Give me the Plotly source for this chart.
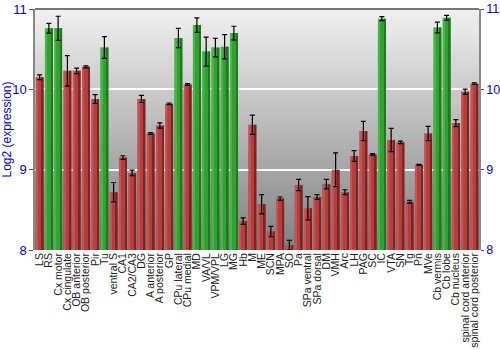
import plotly.graph_objects as go

# Brain regions, mean log2 expression and standard error
regions = [
    "LS", "RS", "Cx motor", "Cx cingulate", "OB anterior", "OB posterior", "Pir", "Tu",
    "ventral S", "CA1", "CA2/CA3", "DG", "A anterior", "A posterior", "GP", "CPu lateral",
    "CPu medial", "MD", "VA/VL", "VPM/VPL", "LG", "MG", "Hb", "M", "ME", "SCN", "MPA", "SO",
    "Pa", "SPa ventral", "SPa dorsal", "DM", "VMH", "Arc", "LH", "PAG", "SC", "IC", "VTA",
    "SN", "Tg", "Pn", "MVe", "Cb vermis", "Cb lobe", "Cb nucleus", "spinal cord anterior",
    "spinal cord posterior",
]
expression = [
    10.15, 10.76, 10.76, 10.23, 10.23, 10.28, 9.88, 10.52,
    8.72, 9.15, 8.96, 9.88, 9.45, 9.55, 9.82, 10.64,
    10.06, 10.80, 10.47, 10.52, 10.53, 10.70, 8.36, 9.56, 8.57, 8.23, 8.64, 8.06,
    8.81, 8.52, 8.66, 8.82, 9.00, 8.72, 9.17, 9.48, 9.19, 10.88, 9.37,
    9.34, 8.60, 9.06, 9.45, 10.77, 10.89, 9.58, 9.97,
    10.07,
]
std_err = [
    0.03, 0.06, 0.15, 0.19, 0.035, 0.012, 0.054, 0.135,
    0.12, 0.023, 0.035, 0.044, 0.01, 0.033, 0.01, 0.12,
    0.01, 0.09, 0.18, 0.116, 0.15, 0.085, 0.04, 0.12, 0.12, 0.065, 0.02, 0.06,
    0.07, 0.145, 0.03, 0.058, 0.21, 0.03, 0.066, 0.12, 0.01, 0.025, 0.145,
    0.015, 0.017, 0.005, 0.09, 0.066, 0.03, 0.044, 0.033,
    0.01,
]
# regions shown in green (high-expression group)
highlighted = {"RS", "Cx motor", "Tu", "CPu lateral", "MD", "VA/VL", "VPM/VPL",
               "LG", "MG", "IC", "Cb vermis", "Cb lobe"}

base_col = ["#32a032" if r in highlighted else "#b53d3d" for r in regions]
dark_col = ["#1f7a1f" if r in highlighted else "#7d2424" for r in regions]
light_col = ["#4cbc4c" if r in highlighted else "#c85a5a" for r in regions]

fig = go.Figure()
# main bar body
fig.add_trace(go.Bar(
    x=regions, y=expression, width=0.86, offset=-0.43,
    marker=dict(color=base_col, line=dict(width=0)), hoverinfo="x+y",
))
# darker right edge for a rounded look
fig.add_trace(go.Bar(
    x=regions, y=expression, width=0.2, offset=0.23,
    marker=dict(color=dark_col, line=dict(width=0)), hoverinfo="skip",
))
# lighter left highlight
fig.add_trace(go.Bar(
    x=regions, y=expression, width=0.16, offset=-0.36,
    marker=dict(color=light_col, line=dict(width=0), opacity=0.8), hoverinfo="skip",
))
# error bars
fig.add_trace(go.Scatter(
    x=regions, y=expression, mode="markers",
    marker=dict(size=0.1, color="rgba(0,0,0,0)"),
    error_y=dict(type="data", array=std_err, color="black", thickness=1.2, width=2.5),
    hoverinfo="skip",
))
# dummy trace to enable the right-hand axis
fig.add_trace(go.Scatter(x=[regions[0]], y=[8], yaxis="y2", mode="markers",
                         marker=dict(color="rgba(0,0,0,0)"), hoverinfo="skip"))

# vertical gradient background: stacked rectangles, each reaching the bottom,
# so no seams appear between the bands
shapes = []
n = 120
for i in range(n):
    t = i / (n - 1)
    g = int(round(0xf0 + (0x80 - 0xf0) * t))
    shapes.append(dict(type="rect", xref="paper", yref="paper",
                       x0=0, x1=1, y0=0, y1=1 - i / n,
                       fillcolor=f"rgb({g},{g},{g})", line=dict(width=0), layer="below"))
shapes.append(dict(type="line", xref="paper", yref="paper", x0=0, x1=1, y0=1, y1=1,
                   line=dict(color="#777777", width=2)))

tick_font = dict(family="Liberation Sans, Arial, sans-serif", size=13, color="#0000ff")
right_font = dict(family="Liberation Sans, Arial, sans-serif", size=12.5, color="#0000ff")
fig.update_layout(
    width=500, height=350,
    margin=dict(l=35, r=21, t=9, b=100),
    paper_bgcolor="white", plot_bgcolor="rgba(0,0,0,0)",
    barmode="overlay", bargap=0.1, showlegend=False,
    shapes=shapes,
    xaxis=dict(
        tickmode="array", tickvals=regions, ticktext=regions, automargin=False,
        tickangle=-90, tickfont=dict(family="Liberation Sans, Arial, sans-serif",
                                     size=10.5, color="#222222"),
        showgrid=False, ticks="", showline=False, range=[-0.5, len(regions) - 0.5],
    ),
    yaxis=dict(
        range=[8, 11], tickvals=[8, 9, 10, 11], tickfont=tick_font, automargin=False,
        showgrid=True, gridcolor="white", gridwidth=2,
        ticks="outside", ticklen=4, tickcolor="#555555",
        showline=True, linecolor="#888888", linewidth=1.5, zeroline=False,
        title=dict(text="Log2 (expression)", standoff=6,
                   font=dict(family="Liberation Sans, Arial, sans-serif", size=12, color="#0000ff")),
    ),
    yaxis2=dict(
        range=[8, 11], tickvals=[8, 9, 10, 11], tickfont=right_font, automargin=False,
        overlaying="y", side="right", showgrid=False,
        ticks="outside", ticklen=3, tickcolor="#555555", ticklabelstandoff=0,
        showline=True, linecolor="#888888", linewidth=1.5, zeroline=False,
    ),
)

fig.write_html("out.html")
